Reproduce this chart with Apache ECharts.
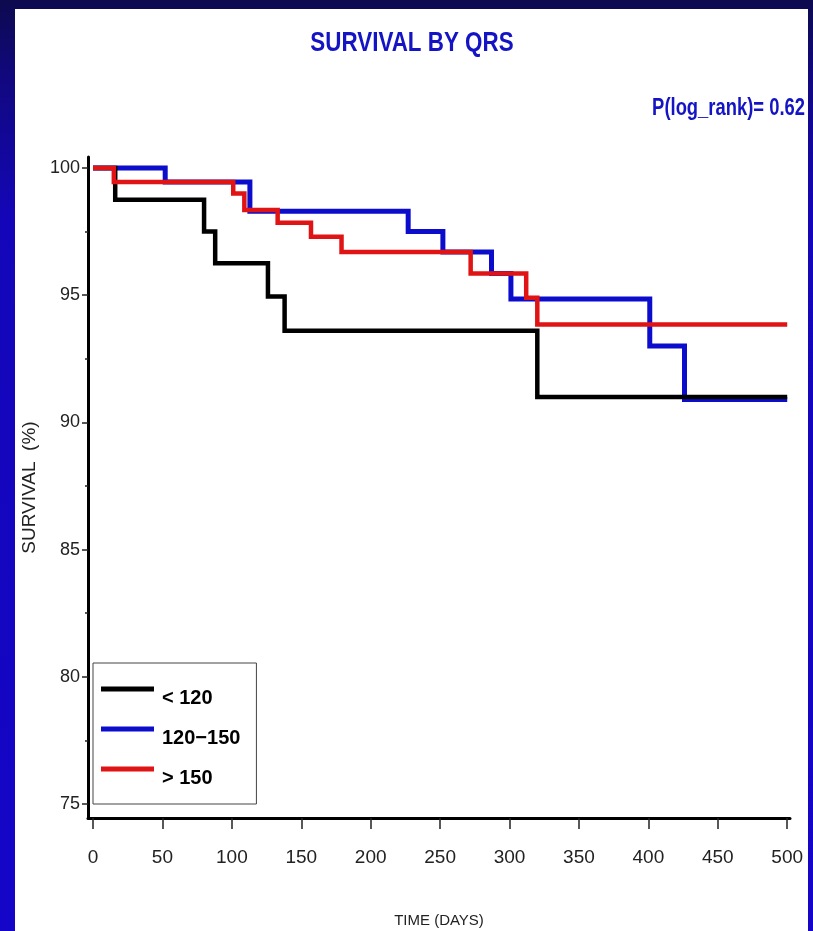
<!DOCTYPE html>
<html lang="en">
<head>
<meta charset="UTF-8">
<title>Survival by QRS</title>
<script src="https://cdn.jsdelivr.net/npm/echarts@6.0.0/dist/echarts.min.js"></script>
<style>
  html, body { margin: 0; padding: 0; }
  body {
    width: 813px;
    height: 931px;
    overflow: hidden;
    background: linear-gradient(to bottom, #0d0a4e 0px, #110880 80px, #1406b8 220px, #1505c8 931px);
  }
  #main {
    position: absolute;
    left: 15px;
    top: 9px;
    width: 793px;
    height: 922px;
    background: #fff;
  }
</style>
</head>
<body>
<div id="main"></div>
<script>
// Kaplan-Meier steps: [day the value starts, survival %]
const namesQrs = ['< 120', '120\u2212150', '> 150'];

const daysLt120 = [0, 16, 80, 88, 126, 138, 320, 500];
const survLt120 = [100, 98.75, 97.5, 96.25, 94.95, 93.6, 91.0, 91.0];

const days120to150 = [0, 52, 113, 227, 252, 287, 301, 401, 426, 500];
const surv120to150 = [100, 99.45, 98.3, 97.5, 96.7, 95.85, 94.85, 93.0, 90.9, 90.9];

const daysGt150 = [0, 15, 101, 109, 133, 157, 179, 272, 312, 320, 500];
const survGt150 = [100, 99.45, 99.0, 98.35, 97.85, 97.3, 96.7, 95.85, 94.9, 93.85, 93.85];

const xTicks = [0, 50, 100, 150, 200, 250, 300, 350, 400, 450, 500];
const yTicks = [75, 80, 85, 90, 95, 100];
const yMinorTicks = [77.5, 82.5, 87.5, 92.5, 97.5];

const titleText = 'SURVIVAL BY QRS';
const pText = 'P(log_rank)= 0.62';

const sans = "'Liberation Sans', Arial, sans-serif";

function pairs(xs, ys) {
  return xs.map((x, i) => [x, ys[i]]);
}

function kmSeries(name, xs, ys, color, width) {
  return {
    name: name,
    type: 'line',
    step: 'end',
    data: pairs(xs, ys),
    symbol: 'none',
    color: color,
    lineStyle: { color: color, width: width, join: 'miter', cap: 'butt' },
    silent: true
  };
}

const yMin = 74.45, yMax = 100.43;

const option = {
  animation: false,
  // the original lettering is condensed, so squeeze the two headings a bit
  graphic: [
    {
      type: 'text',
      x: 397,
      y: 20,
      scaleX: 0.8,
      style: {
        text: titleText,
        align: 'center',
        verticalAlign: 'top',
        font: "bold 28px 'Liberation Sans', Arial, sans-serif",
        fill: '#1414c4'
      }
    },
    {
      type: 'text',
      x: 790,
      y: 88,
      scaleX: 0.8,
      style: {
        text: pText,
        align: 'right',
        verticalAlign: 'top',
        font: "bold 23px 'Liberation Sans', Arial, sans-serif",
        fill: '#1414c4'
      }
    }
  ],
  legend: {
    orient: 'vertical',
    left: 78,
    top: 654,
    data: namesQrs,
    // bar sits at the top of a taller box so the label lands a little below it
    icon: 'path://M0,0L53,0L53,5L0,5Z M0,23L0.01,23',
    itemWidth: 53,
    itemHeight: 23,
    itemGap: 17,
    padding: [23.5, 16, 14.5, 8],
    borderColor: '#444',
    borderWidth: 1,
    selectedMode: false,
    textStyle: {
      fontFamily: sans,
      fontWeight: 'bold',
      fontSize: 20,
      color: '#000',
      padding: [0, 0, 0, 3]
    }
  },
  grid: { left: 73, right: 18, top: 148, bottom: 113, outerBoundsMode: 'none', containLabel: false },
  xAxis: {
    type: 'value',
    min: -3.6,
    max: 502,
    splitLine: { show: false },
    axisLine: { onZero: false, lineStyle: { color: '#000', width: 3 } },
    axisTick: { customValues: xTicks, length: 11, lineStyle: { color: '#222', width: 1.5 } },
    axisLabel: { customValues: xTicks, margin: 30, fontFamily: sans, fontSize: 19, color: '#222' },
    name: 'TIME (DAYS)',
    nameLocation: 'middle',
    nameGap: 95,
    nameTextStyle: { fontFamily: sans, fontSize: 15, color: '#222' }
  },
  yAxis: [
    {
      type: 'value',
      min: yMin,
      max: yMax,
      splitLine: { show: false },
      axisLine: { onZero: false, lineStyle: { color: '#000', width: 3 } },
      axisTick: { customValues: yTicks, length: 6, lineStyle: { color: '#222', width: 1.5 } },
      axisLabel: { customValues: yTicks, margin: 8, fontFamily: sans, fontSize: 18, color: '#222' },
      name: 'SURVIVAL  (%)',
      nameLocation: 'middle',
      nameGap: 35,
      nameTextStyle: { fontFamily: sans, fontSize: 19, color: '#222' }
    },
    {
      type: 'value',
      position: 'left',
      min: yMin,
      max: yMax,
      splitLine: { show: false },
      axisLine: { show: false, onZero: false },
      axisTick: { customValues: yMinorTicks, length: 3, lineStyle: { color: '#222', width: 1.5 } },
      axisLabel: { show: false }
    }
  ],
  series: [
    kmSeries(namesQrs[1], days120to150, surv120to150, '#0c0ccc', 5),
    kmSeries(namesQrs[0], daysLt120, survLt120, '#000000', 4.5),
    kmSeries(namesQrs[2], daysGt150, survGt150, '#e01414', 4.5)
  ]
};

const chart = echarts.init(document.getElementById('main'));
chart.setOption(option);
</script>
</body>
</html>
